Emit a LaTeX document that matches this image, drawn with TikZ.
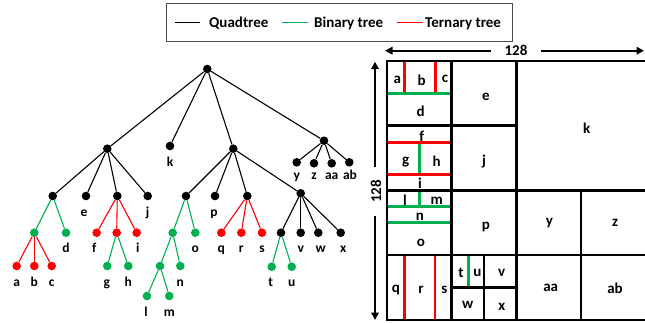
\documentclass[tikz,border=0pt]{standalone}
\usepackage{fontspec}
\setmainfont{Carlito}
\usetikzlibrary{arrows.meta}
\definecolor{tgreen}{HTML}{00B050}
\definecolor{tred}{HTML}{FF0000}
\begin{document}
\begin{tikzpicture}[x=1pt,y=-1pt,
  dot/.style={circle,fill=black,inner sep=0pt,minimum size=8.6pt},
  gdot/.style={dot,fill=tgreen},
  rdot/.style={dot,fill=tred},
  tlab/.style={anchor=base,font=\fontsize{13.5}{13.5}\selectfont\bfseries,inner sep=0pt},
  glab/.style={font=\fontsize{15}{15}\selectfont\bfseries,inner sep=0pt},
  legtxt/.style={anchor=base west,font=\fontsize{15}{15}\selectfont\bfseries,inner sep=0pt},
  bk/.style={draw=black,line width=1.1pt},
  gn/.style={draw=tgreen,line width=1.1pt},
  rd/.style={draw=tred,line width=1.1pt},
  gl/.style={line width=2.7pt},
  arr/.style={line width=1.8pt,-{Triangle[length=7.5pt,width=7.5pt]}},
  dimlab/.style={font=\fontsize{15}{15}\selectfont\bfseries,inner ysep=0pt,inner xsep=13pt}
]
\useasboundingbox (0,0) rectangle (645,322);

% ---------------- legend
\node[draw=black!70,line width=1pt,minimum width=346pt,minimum height=38pt,inner sep=0pt] (legend) at (339,22) {};
\draw[bk] (175,22.7) -- (200,22.7);
\node[legtxt] (lq) at (209,27) {Quadtree};
\draw[gn] (281.7,22.7) -- (308.3,22.7);
\node[legtxt] (lb) at (314,27) {Binary tree};
\draw[rd] (396.7,22.7) -- (423.3,22.7);
\node[legtxt] (lt) at (425,27) {Ternary tree};

% ---------------- tree nodes
\node[dot] (root) at (207.3,69) {};
\node[dot] (n1) at (107.3,148.7) {};
\node[dot] (k) at (170,146) {};
\node[dot] (n3) at (233.3,148.7) {};
\node[dot] (n4) at (324,140.7) {};
\node[dot] (y) at (296.7,162.3) {};
\node[dot] (z) at (314,163.3) {};
\node[dot] (aa) at (331.7,163.3) {};
\node[dot] (ab) at (349.3,162.3) {};
\node[dot] (bin1) at (52.7,196) {};
\node[dot] (e) at (86,196) {};
\node[dot] (ter1) at (117.3,196) {};
\node[dot] (j) at (147.7,196) {};
\node[gdot] (g1) at (34.3,232.7) {};
\node[gdot] (d) at (66,232.7) {};
\node[rdot] (a) at (16.7,266) {};
\node[rdot] (b) at (34.3,266) {};
\node[rdot] (c) at (51.7,266) {};
\node[rdot] (f) at (96.7,232.7) {};
\node[rdot] (r1) at (116.7,232.7) {};
\node[rdot] (i) at (136.7,232.7) {};
\node[gdot] (g) at (107.3,266) {};
\node[gdot] (h) at (128.3,266) {};
\node[dot] (bin2) at (186,196) {};
\node[dot] (p) at (215,196) {};
\node[dot] (ter2) at (247.3,196) {};
\node[dot] (quad) at (300.7,193.3) {};
\node[gdot] (g2) at (172.7,232.7) {};
\node[gdot] (o) at (195.3,232.7) {};
\node[gdot] (g3) at (160,266) {};
\node[gdot] (n) at (180.3,266) {};
\node[gdot] (l) at (147,296) {};
\node[gdot] (m) at (169.3,296) {};
\node[rdot] (q) at (221.3,232.7) {};
\node[rdot] (r) at (241.3,232.7) {};
\node[rdot] (s) at (262,232.7) {};
\node[dot] (tu) at (281,232.7) {};
\node[dot] (v) at (300.7,232.7) {};
\node[dot] (w) at (318.3,232.7) {};
\node[dot] (x) at (340.7,232.7) {};
\node[gdot] (t) at (271.7,266.7) {};
\node[gdot] (u) at (291.7,266.7) {};

% ---------------- tree edges
\foreach \ch in {n1,k,n3,n4} \draw[bk] (root) -- (\ch);
\foreach \ch in {y,z,aa,ab} \draw[bk] (n4) -- (\ch);
\foreach \ch in {bin1,e,ter1,j} \draw[bk] (n1) -- (\ch);
\foreach \ch in {g1,d} \draw[gn] (bin1) -- (\ch);
\foreach \ch in {a,b,c} \draw[rd] (g1) -- (\ch);
\foreach \ch in {f,r1,i} \draw[rd] (ter1) -- (\ch);
\foreach \ch in {g,h} \draw[gn] (r1) -- (\ch);
\foreach \ch in {bin2,p,ter2,quad} \draw[bk] (n3) -- (\ch);
\foreach \ch in {g2,o} \draw[gn] (bin2) -- (\ch);
\foreach \ch in {g3,n} \draw[gn] (g2) -- (\ch);
\foreach \ch in {l,m} \draw[gn] (g3) -- (\ch);
\foreach \ch in {q,r,s} \draw[rd] (ter2) -- (\ch);
\foreach \ch in {tu,v,w,x} \draw[bk] (quad) -- (\ch);
\foreach \ch in {t,u} \draw[gn] (tu) -- (\ch);

% ---------------- tree labels
\node[tlab] (tk) at (170,166) {k};
\node[tlab] (ty) at (296.7,179) {y};
\node[tlab] (tz) at (314,179) {z};
\node[tlab] (taa) at (331.7,179) {aa};
\node[tlab] (tab) at (350,179) {ab};
\node[tlab] (te) at (84,216) {e};
\node[tlab] (tj) at (147.7,216) {j};
\node[tlab] (td) at (66,252.7) {d};
\node[tlab] (ta) at (16.7,286) {a};
\node[tlab] (tb) at (34.3,286) {b};
\node[tlab] (tc) at (51.7,286) {c};
\node[tlab] (tf) at (94.3,252.7) {f};
\node[tlab] (ti) at (137.7,252.7) {i};
\node[tlab] (tg) at (106.7,286) {g};
\node[tlab] (th) at (128.3,286) {h};
\node[tlab] (tp) at (214,216) {p};
\node[tlab] (to) at (195.3,252.7) {o};
\node[tlab] (tn) at (180.3,286) {n};
\node[tlab] (tl) at (146,316) {l};
\node[tlab] (tm) at (169.3,316) {m};
\node[tlab] (tq) at (221.3,252.7) {q};
\node[tlab] (tr) at (241.3,252.7) {r};
\node[tlab] (ts) at (262,252.7) {s};
\node[tlab] (tv) at (300.7,252.7) {v};
\node[tlab] (tw) at (320.7,252.7) {w};
\node[tlab] (tx) at (343.3,252.7) {x};
\node[tlab] (tt) at (270.7,286.7) {t};
\node[tlab] (tuu) at (291.7,286.7) {u};

% ---------------- partition grid: coloured splits
\draw[gl,tred] (404.5,61) -- (404.5,93.4) (435.5,61) -- (435.5,93.4);
\draw[gl,tgreen] (387,93.4) -- (451.7,93.4);
\draw[gl,tgreen] (419.8,142.7) -- (419.8,174.3);
\draw[gl,tred] (387,142.7) -- (451.7,142.7) (387,174.3) -- (451.7,174.3);
\draw[gl,tgreen] (387,206.6) -- (451.7,206.6) (387,222.7) -- (451.7,222.7);
\draw[gl,tgreen] (419.8,190.4) -- (419.8,206.6);
\draw[gl,tred] (404.5,255) -- (404.5,320) (435,255) -- (435,320);
\draw[gl,tgreen] (468.5,255) -- (468.5,287.6);

% ---------------- partition grid: quadtree splits
\draw[gl] (387,61) rectangle (646.5,320);
\draw[gl] (451.7,61) -- (451.7,320);
\draw[gl] (516.4,61) -- (516.4,320);
\draw[gl] (581,190.4) -- (581,320);
\draw[gl] (387,125.7) -- (516.4,125.7);
\draw[gl] (387,190.4) -- (646.5,190.4);
\draw[gl] (387,255) -- (646.5,255);
\draw[gl] (484,255) -- (484,320);
\draw[gl] (451.7,287.6) -- (516.4,287.6);

% ---------------- grid labels
\node[glab] (ga) at (397.3,80) {a};
\node[glab] (gb) at (421.7,80) {b};
\node[glab] (gc) at (445,79.3) {c};
\node[glab] (gd) at (420.7,111.7) {d};
\node[glab] (ge) at (486,96.7) {e};
\node[glab] (gk) at (586.7,128.3) {k};
\node[glab] (gf) at (421.7,136.7) {f};
\node[glab] (gg) at (405.7,161.7) {g};
\node[glab] (gh) at (436.7,161.7) {h};
\node[glab] (gj) at (484,161.7) {j};
\node[glab] (gi) at (420,183.3) {i};
\node[glab] (gll) at (405,200.7) {l};
\node[glab] (gm) at (436.7,200.7) {m};
\node[glab] (gn) at (420,216.7) {n};
\node[glab] (go) at (421,242.7) {o};
\node[glab] (gp) at (486,226.7) {p};
\node[glab] (gy) at (549.3,223.3) {y};
\node[glab] (gz) at (615,223.3) {z};
\node[glab] (gq) at (396,290) {q};
\node[glab] (gr) at (421,290) {r};
\node[glab] (gs) at (444.3,290) {s};
\node[glab] (gt) at (461,273.3) {t};
\node[glab] (gu) at (477.3,273.3) {u};
\node[glab] (gv) at (501.7,273.3) {v};
\node[glab] (gw) at (467.7,305) {w};
\node[glab] (gx) at (501.7,306.7) {x};
\node[glab] (gaa) at (550.7,288.3) {aa};
\node[glab] (gab) at (615,288.3) {ab};

% ---------------- dimension arrows
\node[dimlab] (h128) at (516,50.7) {128};
\coordinate (hl) at (385,50.7);
\coordinate (hr) at (644,50.7);
\draw[arr] (h128) -- (hl);
\draw[arr] (h128) -- (hr);
\node[dimlab,rotate=90] (v128) at (376,191.5) {128};
\coordinate (vt) at (375,61.7);
\coordinate (vb) at (375,320);
\draw[arr] (v128.east -| vt) -- (vt);
\draw[arr] (v128.west -| vb) -- (vb);
\end{tikzpicture}
\end{document}
